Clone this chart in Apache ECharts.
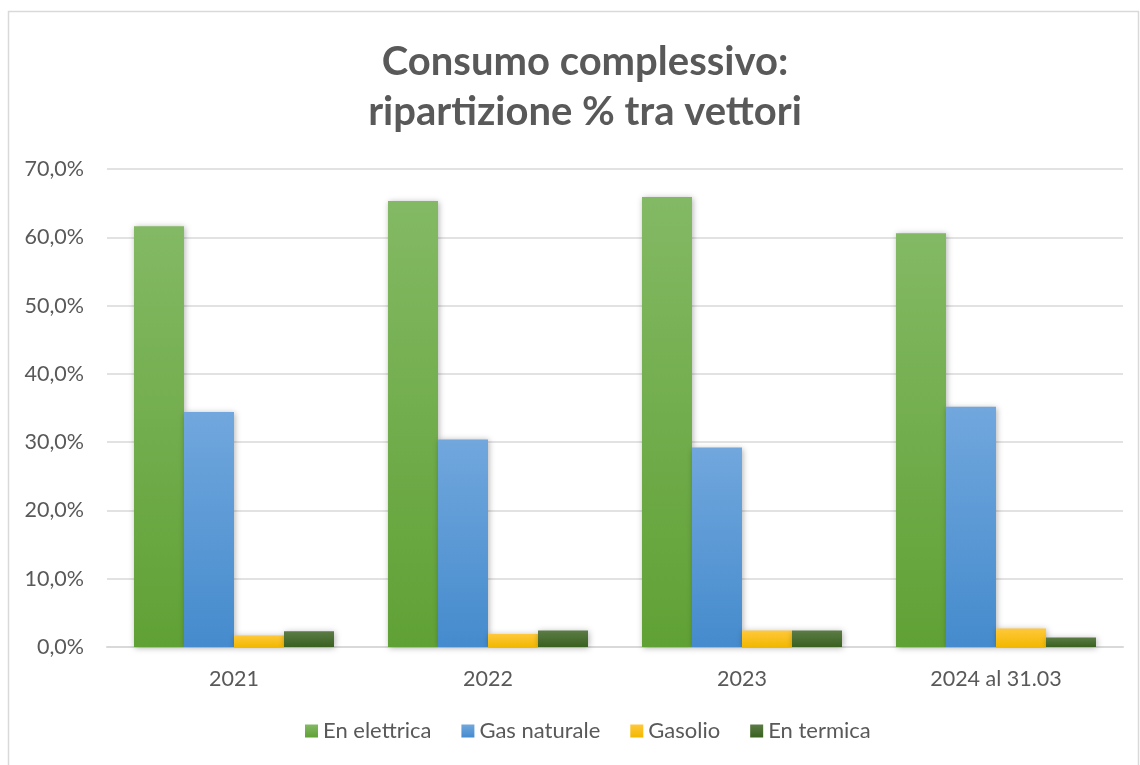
<!DOCTYPE html>
<html>
<head>
<meta charset="utf-8">
<script src="https://cdn.jsdelivr.net/npm/echarts@6/dist/echarts.min.js"></script>
<style>
  html, body { margin: 0; padding: 0; background: #fff; }
  #chart { width: 1140px; height: 765px; }
</style>
</head>
<body>
<div id="chart"></div>
<script>
// anni / categorie
const categories = ['2021', '2022', '2023', '2024 al 31.03'];
// valori in %
const enElettrica = [61.6, 65.3, 65.9, 60.6];
const gasNaturale = [34.4, 30.4, 29.2, 35.2];
const gasolio = [1.7, 1.9, 2.4, 2.7];
const enTermica = [2.3, 2.4, 2.4, 1.4];
const seriesNames = ['En elettrica', 'Gas naturale', 'Gasolio', 'En termica'];

const font = 'Lato, "Open Sans", sans-serif';
const textColor = '#595959';

function grad(top, bottom) {
  return new echarts.graphic.LinearGradient(0, 0, 0, 1, [
    { offset: 0, color: top },
    { offset: 1, color: bottom }
  ]);
}

function barSeries(name, data, top, bottom) {
  return {
    name: name,
    type: 'bar',
    data: data,
    barWidth: 50,
    barGap: '0%',
    itemStyle: {
      color: grad(top, bottom),
      shadowColor: 'rgba(0,0,0,0.3)',
      shadowBlur: 6,
      shadowOffsetX: 1,
      shadowOffsetY: 1
    }
  };
}

const chart = echarts.init(document.getElementById('chart'));
chart.setOption({
  animation: false,
  textStyle: { fontFamily: font },
  graphic: [{
    type: 'rect',
    shape: { x: 8.5, y: 11.5, width: 1130, height: 760 },
    style: { fill: 'none', stroke: '#d9d9d9', lineWidth: 1.5 },
    silent: true
  }],
  title: {
    text: 'Consumo complessivo:\nripartizione % tra vettori',
    left: 580,
    textAlign: 'center',
    top: 32,
    textStyle: {
      fontFamily: font,
      fontSize: 40,
      fontWeight: 'bold',
      color: textColor,
      lineHeight: 50
    }
  },
  legend: {
    data: seriesNames,
    bottom: 18,
    left: 300,
    itemWidth: 13,
    itemHeight: 13,
    itemGap: 30,
    icon: 'rect',
    textStyle: { fontFamily: font, fontSize: 22, color: textColor }
  },
  grid: { left: 107, right: 17, top: 169, bottom: 118 },
  xAxis: {
    type: 'category',
    data: categories,
    axisTick: { show: false },
    axisLine: { lineStyle: { color: '#d9d9d9', width: 2 } },
    axisLabel: { fontFamily: font, fontSize: 21.5, color: textColor, margin: 21 }
  },
  yAxis: {
    type: 'value',
    min: 0,
    max: 70,
    interval: 10,
    axisLine: { show: false },
    axisTick: { show: false },
    splitLine: { lineStyle: { color: '#d9d9d9', width: 1.5 } },
    axisLabel: {
      fontFamily: font,
      fontSize: 21.5,
      color: textColor,
      margin: 23,
      formatter: v => v.toFixed(1).replace('.', ',') + '%'
    }
  },
  series: [
    barSeries(seriesNames[0], enElettrica, '#83b964', '#60a135'),
    barSeries(seriesNames[1], gasNaturale, '#71a7dd', '#458bcd'),
    barSeries(seriesNames[2], gasolio, '#ffc83a', '#f2b800'),
    barSeries(seriesNames[3], enTermica, '#5b7c46', '#3a611f')
  ]
});
</script>
</body>
</html>
